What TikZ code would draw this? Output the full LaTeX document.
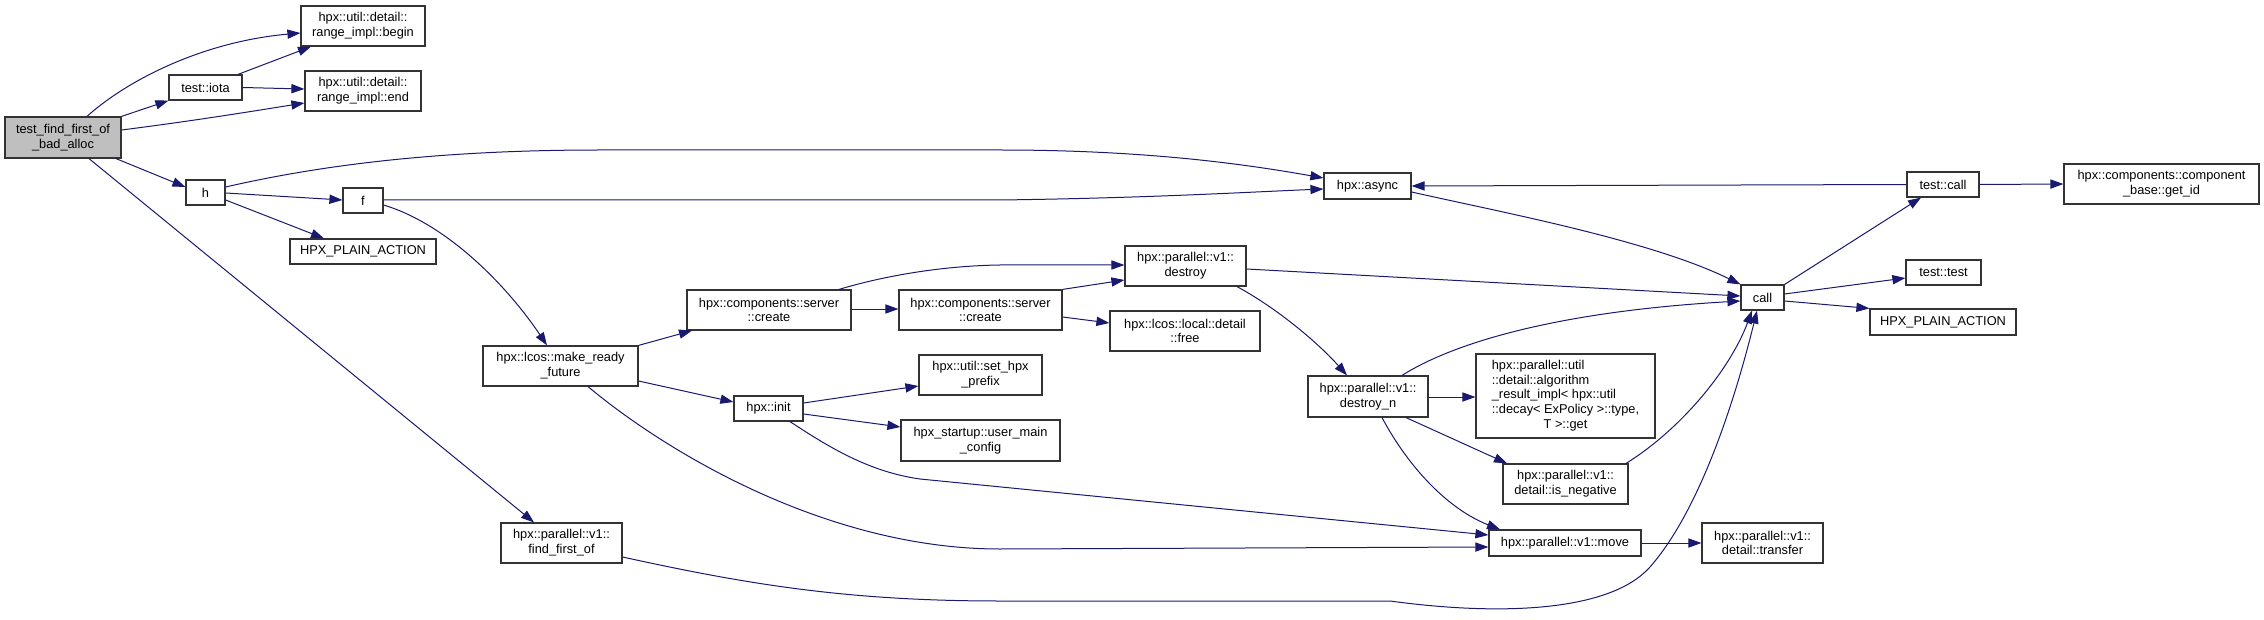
\documentclass[tikz,border=0pt]{standalone}
\usepackage{fontspec}
\setmainfont{Liberation Sans}
\usetikzlibrary{arrows.meta}
\definecolor{edgeblue}{HTML}{191970}
\definecolor{nodegray}{HTML}{BFBFBF}
\tikzset{
  box/.style={draw=black!80, line width=0.6pt, fill=white, inner sep=0pt, align=center,
    font=\fontsize{6.4}{7.4}\selectfont},
  edge/.style={draw=edgeblue, line width=0.5pt, -{Triangle[length=6.5pt,width=4.6pt]}},
}
\newcommand{\bx}[7][]{\node[box,#1,minimum width={(#4-#2)*0.5pt},minimum height={(#5-#3)*0.5pt}] (#6) at ({(#2+#4)/2},{(#3+#5)/2}) {#7};}
\begin{document}
\begin{tikzpicture}[x=0.5pt,y=-0.5pt]
\useasboundingbox (0,0) rectangle (2264,620);
% nodes
\bx[fill=nodegray]{5}{117}{121}{158}{main}{test\_find\_first\_of\\\_bad\_alloc}
\bx{301}{6}{425}{46}{begin}{hpx::util::detail::\\range\_impl::begin}
\bx{169}{75}{242}{100}{iota}{test::iota}
\bx{305}{71}{421}{111}{end}{hpx::util::detail::\\range\_impl::end}
\bx{186}{180}{225}{205}{h}{h}
\bx{343}{188}{383}{213}{f}{f}
\bx{290}{239}{436}{264}{hpa1}{HPX\_PLAIN\_ACTION}
\bx{1324}{173}{1411}{199}{async}{hpx::async}
\bx{1907}{172}{1979}{197}{tcall}{test::call}
\bx{2064}{164}{2259}{204}{getid}{hpx::components::component\\\_base::get\_id}
\bx{1741}{285}{1784}{310}{call}{call}
\bx{1906}{260}{1981}{285}{ttest}{test::test}
\bx{1870}{309}{2016}{335}{hpa2}{HPX\_PLAIN\_ACTION}
\bx{687}{290}{851}{330}{create1}{hpx::components::server\\::create}
\bx{899}{290}{1062}{330}{create2}{hpx::components::server\\::create}
\bx{1125}{246}{1246}{286}{destroy}{hpx::parallel::v1::\\destroy}
\bx{1110}{311}{1260}{351}{free}{hpx::lcos::local::detail\\::free}
\bx{483}{346}{638}{386}{mrf}{hpx::lcos::make\_ready\\\_future}
\bx{734}{396}{803}{421}{init}{hpx::init}
\bx{919}{355}{1042}{395}{prefix}{hpx::util::set\_hpx\\\_prefix}
\bx{901}{420}{1060}{461}{umc}{hpx\_startup::user\_main\\\_config}
\bx{1308}{376}{1428}{417}{destroyn}{hpx::parallel::v1::\\destroy\_n}
\bx{1476}{354}{1655}{438}{algo}{\begin{tabular}{@{}l@{}}hpx::parallel::util\\::detail::algorithm\\\_result\_impl< hpx::util\\::decay< ExPolicy >::type,\\\multicolumn{1}{@{}c@{}}{T >::get}\end{tabular}}
\bx{1503}{464}{1628}{504}{isneg}{hpx::parallel::v1::\\detail::is\_negative}
\bx{1489}{530}{1641}{556}{move}{hpx::parallel::v1::move}
\bx{1702}{523}{1823}{563}{transfer}{hpx::parallel::v1::\\detail::transfer}
\bx{501}{523}{622}{563}{ffo}{hpx::parallel::v1::\\find\_first\_of}
% edges
\draw[edge] (main.north -| 87,0) .. controls (125,82) and (200,42) .. (begin.west |- 0,33);
\draw[edge] (main.north east) -- (iota.south west);
\draw[edge] (main.east |- 0,130) .. controls (200,120) and (260,110) .. (end.west |- 0,103);
\draw[edge] (main.south -| 116,0) -- (h.west |- 0,187);
\draw[edge] (main.south -| 89,0) -- (ffo.north -| 534,0);
\draw[edge] (iota.north -| 238,0) -- (begin.south -| 311,0);
\draw[edge] (iota.east) -- (end.west |- 0,89);
\draw[edge] (h.east |- 0,187) .. controls (330,163) and (450,150) .. (600,150) -- (1000,150) .. controls (1150,150) and (1250,165) .. (async.west |- 0,178);
\draw[edge] (h.east |- 0,193) -- (f.west |- 0,200);
\draw[edge] (h.east |- 0,200) -- (hpa1.north -| 324,0);
\draw[edge] (f.east |- 0,200) -- (1000,200) .. controls (1150,198) and (1250,192) .. (async.west |- 0,189);
\draw[edge] (f.east |- 0,205) .. controls (450,225) and (510,290) .. (mrf.north -| 547,0);
\draw[edge] (mrf.north east) -- (create1.south -| 692,0);
\draw[edge] (mrf.east |- 0,381) -- (init.west |- 0,402);
\draw[edge] (mrf.south -| 588,0) .. controls (670,455) and (830,549) .. (1000,549) -- (move.west |- 0,547);
\draw[edge] (init.east |- 0,403) -- (prefix.west |- 0,386);
\draw[edge] (init.east |- 0,414) -- (umc.west |- 0,427);
\draw[edge] (init.south -| 790,0) .. controls (830,448) and (870,472) .. (920,479) -- (move.west |- 0,535);
\draw[edge] (create1.east |- 0,309) -- (create2.west |- 0,309);
\draw[edge] (create1.north -| 839,0) .. controls (870,280) and (930,266) .. (1000,265) -- (destroy.west |- 0,265);
\draw[edge] (create2.north east) -- (destroy.west |- 0,280);
\draw[edge] (create2.east |- 0,317) -- (free.west |- 0,323);
\draw[edge] (destroy.east |- 0,269) -- (call.west |- 0,296);
\draw[edge] (destroy.south -| 1237,0) .. controls (1280,310) and (1320,345) .. (destroyn.north -| 1347,0);
\draw[edge] (destroyn.north -| 1402,0) .. controls (1450,345) and (1550,312) .. (call.west |- 0,301);
\draw[edge] (destroyn.east |- 0,397) -- (algo.west |- 0,397);
\draw[edge] (destroyn.south -| 1406,0) -- (isneg.north -| 1507,0);
\draw[edge] (destroyn.south -| 1382,0) .. controls (1410,470) and (1450,510) .. (move.north -| 1500,0);
\draw[edge] (isneg.north -| 1626,0) .. controls (1680,430) and (1730,370) .. (call.south -| 1752,0);
\draw[edge] (move.east) -- (transfer.west);
\draw[edge] (ffo.east |- 0,557) .. controls (750,585) and (850,601) .. (1000,601) -- (1390,601) .. controls (1500,616) and (1610,612) .. (1650,567) .. controls (1700,510) and (1735,400) .. (call.south -| 1757,0);
\draw[edge] (async.east |- 0,192) .. controls (1500,212) and (1650,240) .. (call.north west);
\draw[edge] (tcall.west) -- (async.east);
\draw[edge] (call.north east) -- (tcall.south -| 1921,0);
\draw[edge] (call.east |- 0,294) -- (ttest.west |- 0,278);
\draw[edge] (call.east |- 0,301) -- (hpa2.north west);
\draw[edge] (tcall.east) -- (getid.west |- 0,184);
\end{tikzpicture}
\end{document}
